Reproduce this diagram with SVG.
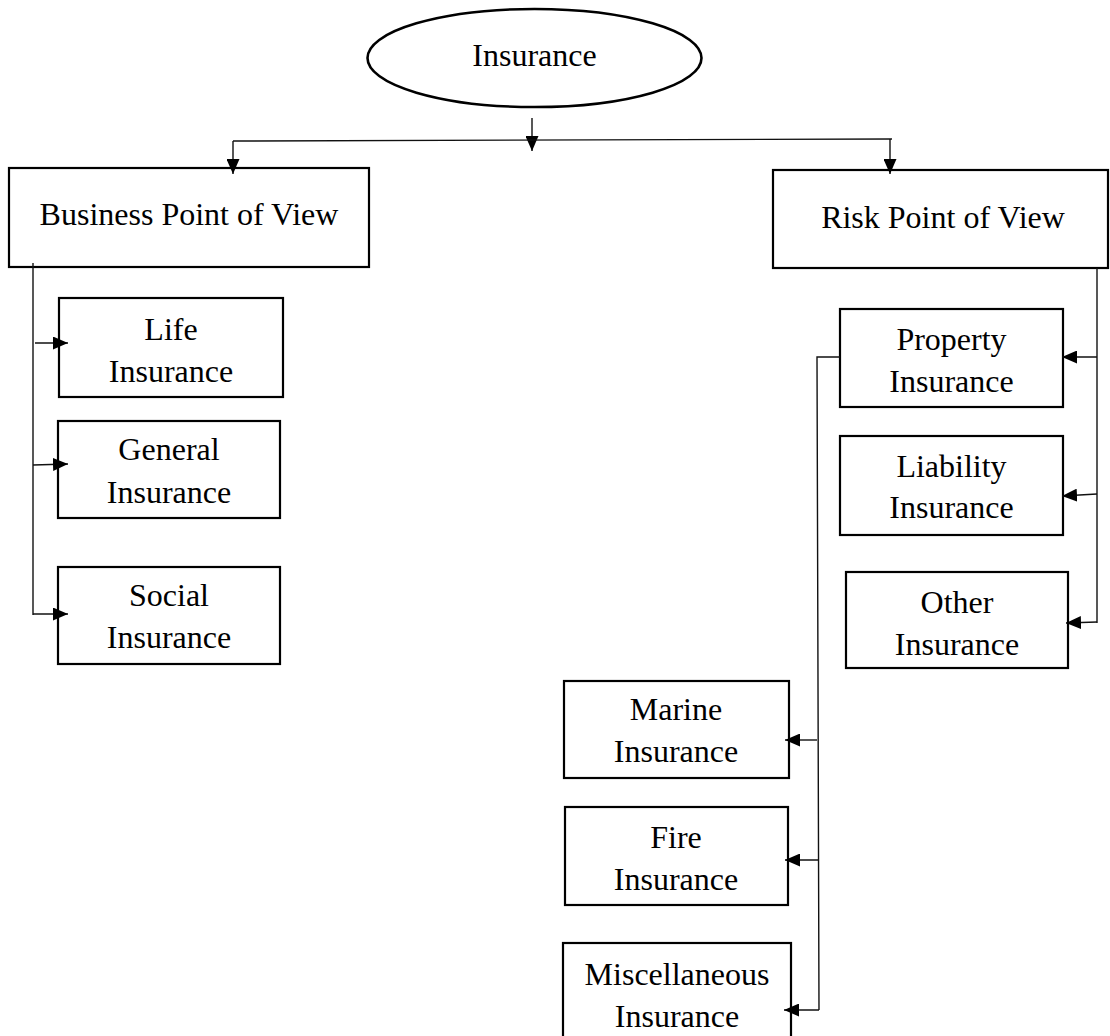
<svg xmlns="http://www.w3.org/2000/svg" width="1110" height="1036" viewBox="0 0 1110 1036">
<style>
.box{fill:#fff;stroke:#000;stroke-width:2.2}
.t{font-family:"Liberation Serif","Times New Roman",serif;font-size:32px;fill:#000;text-anchor:middle}
.c{fill:none;stroke:#111;stroke-width:1.4}
</style>
<defs>
<marker id="ah" viewBox="0 0 15 13" refX="15" refY="6.5" markerWidth="15" markerHeight="13" markerUnits="userSpaceOnUse" orient="auto">
<path d="M0,0 L15,6.5 L0,13 z" fill="#000"/>
</marker>
</defs>
<rect width="1110" height="1036" fill="#fff"/>
<g id="insurance">
<ellipse cx="534.5" cy="58" rx="167" ry="49" fill="#fff" stroke="#000" stroke-width="2.6"/>
<text class="t" x="534.5" y="66">Insurance</text>
</g>
<g id="business">
<rect class="box" x="9" y="168" width="360" height="99"/>
<text class="t" x="189" y="225">Business Point of View</text>
</g>
<g id="risk">
<rect class="box" x="773" y="170" width="335" height="98"/>
<text class="t" x="943" y="228">Risk Point of View</text>
</g>
<g id="life">
<rect class="box" x="59" y="298" width="224" height="99"/>
<text class="t" x="171" y="340">Life</text>
<text class="t" x="171" y="382">Insurance</text>
</g>
<g id="general">
<rect class="box" x="58" y="421" width="222" height="97"/>
<text class="t" x="169" y="460">General</text>
<text class="t" x="169" y="503">Insurance</text>
</g>
<g id="social">
<rect class="box" x="58" y="567" width="222" height="97"/>
<text class="t" x="169" y="606">Social</text>
<text class="t" x="169" y="648">Insurance</text>
</g>
<g id="property">
<rect class="box" x="840" y="309" width="223" height="98"/>
<text class="t" x="951.5" y="350">Property</text>
<text class="t" x="951.5" y="392">Insurance</text>
</g>
<g id="liability">
<rect class="box" x="840" y="436" width="223" height="99"/>
<text class="t" x="951.5" y="477">Liability</text>
<text class="t" x="951.5" y="518">Insurance</text>
</g>
<g id="other">
<rect class="box" x="846" y="572" width="222" height="96"/>
<text class="t" x="957" y="613">Other</text>
<text class="t" x="957" y="655">Insurance</text>
</g>
<g id="marine">
<rect class="box" x="564" y="681" width="225" height="97"/>
<text class="t" x="676" y="720">Marine</text>
<text class="t" x="676" y="762">Insurance</text>
</g>
<g id="fire">
<rect class="box" x="565" y="807" width="223" height="98"/>
<text class="t" x="676" y="848">Fire</text>
<text class="t" x="676" y="890">Insurance</text>
</g>
<g id="miscellaneous">
<rect class="box" x="563" y="943" width="228" height="110"/>
<text class="t" x="677" y="985">Miscellaneous</text>
<text class="t" x="677" y="1027">Insurance</text>
</g>
<g id="connectors">
<path class="c" d="M532,118 L532,151" marker-end="url(#ah)"/>
<path class="c" d="M233,141 L892,139"/>
<path class="c" d="M233,141 L233,174" marker-end="url(#ah)"/>
<path class="c" d="M890,139 L890,174" marker-end="url(#ah)"/>
<path class="c" d="M33,263 L33,615"/>
<path class="c" d="M35,343 L68,343" marker-end="url(#ah)"/>
<path class="c" d="M33,465 L68,464" marker-end="url(#ah)"/>
<path class="c" d="M33,614 L68,614" marker-end="url(#ah)"/>
<path class="c" d="M1097,268 L1097,623"/>
<path class="c" d="M1097,357 L1062,357" marker-end="url(#ah)"/>
<path class="c" d="M1097,494 L1062,496" marker-end="url(#ah)"/>
<path class="c" d="M1097,622 L1066,623" marker-end="url(#ah)"/>
<path class="c" d="M840,357 L817,357 L819,1010"/>
<path class="c" d="M817,740 L785,740" marker-end="url(#ah)"/>
<path class="c" d="M818,860 L785,860" marker-end="url(#ah)"/>
<path class="c" d="M819,1010 L784,1010" marker-end="url(#ah)"/>
</g>
</svg>
